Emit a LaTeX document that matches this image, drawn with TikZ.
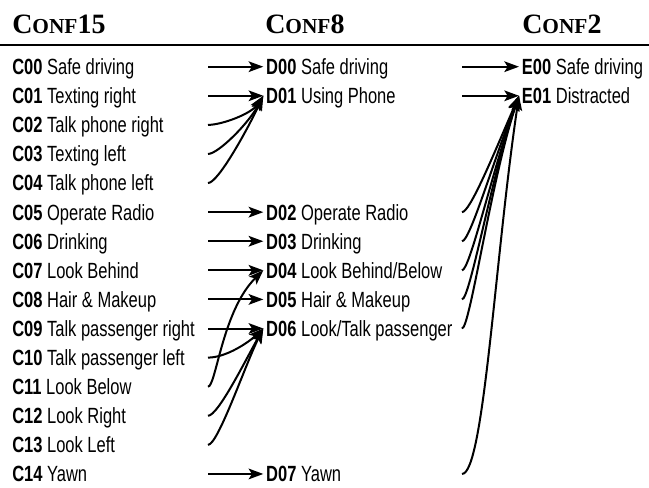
\documentclass[tikz,border=0pt]{standalone}
\usepackage{fontspec}
\setmainfont[FakeStretch=0.75]{Liberation Sans}
\newfontfamily\hdfont{Liberation Serif}
\usetikzlibrary{arrows.meta}
\newcommand\hdsmall[1]{{\fontsize{16}{17}\selectfont #1}}
\begin{document}
\begin{tikzpicture}[x=0.75pt,y=0.75pt,
  lab/.style={anchor=west,inner xsep=0pt,inner ysep=0pt,text height=11.8pt,text depth=0pt,font=\fontsize{16.5}{19}\selectfont},
  dlab/.style={lab,inner xsep=2pt},
  arr/.style={line width=1.5pt,-{Stealth[length=11pt,width=8pt,inset=2.5pt]}},
  rule/.style={line width=0.8pt},
  hd/.style={anchor=base west,inner sep=0pt,font=\hdfont\bfseries\fontsize{21}{24}\selectfont}]
\useasboundingbox (0,0) rectangle (649,487);
% headers
\node[hd] (h1) at (12,454) {C\hdsmall{ONF}15};
\node[hd] (h2) at (265,454) {C\hdsmall{ONF}8};
\node[hd] (h3) at (522,454) {C\hdsmall{ONF}2};
\coordinate (l0) at (0,442);
\coordinate (l1) at (649,442);
\draw[rule] (l0) -- (l1);
% column 1
\node[lab] (C00) at (12,420.30) {\textbf{C00} Safe driving};
\node[lab] (C01) at (12,391.21) {\textbf{C01} Texting right};
\node[lab] (C02) at (12,362.12) {\textbf{C02} Talk phone right};
\node[lab] (C03) at (12,333.03) {\textbf{C03} Texting left};
\node[lab] (C04) at (12,303.94) {\textbf{C04} Talk phone left};
\node[lab] (C05) at (12,274.85) {\textbf{C05} Operate Radio};
\node[lab] (C06) at (12,245.76) {\textbf{C06} Drinking};
\node[lab] (C07) at (12,216.67) {\textbf{C07} Look Behind};
\node[lab] (C08) at (12,187.58) {\textbf{C08} Hair \& Makeup};
\node[lab] (C09) at (12,158.49) {\textbf{C09} Talk passenger right};
\node[lab] (C10) at (12,129.40) {\textbf{C10} Talk passenger left};
\node[lab] (C11) at (12,100.31) {\textbf{C11} Look Below};
\node[lab] (C12) at (12,71.22) {\textbf{C12} Look Right};
\node[lab] (C13) at (12,42.13) {\textbf{C13} Look Left};
\node[lab] (C14) at (12,13.04) {\textbf{C14} Yawn};
% column 2
\node[dlab] (D00) at (263.3,420.30) {\textbf{D00} Safe driving};
\node[dlab] (D01) at (263.3,391.21) {\textbf{D01} Using Phone};
\node[dlab] (D02) at (263.3,274.85) {\textbf{D02} Operate Radio};
\node[dlab] (D03) at (263.3,245.76) {\textbf{D03} Drinking};
\node[dlab] (D04) at (263.3,216.67) {\textbf{D04} Look Behind/Below};
\node[dlab] (D05) at (263.3,187.58) {\textbf{D05} Hair \& Makeup};
\node[dlab] (D06) at (263.3,158.49) {\textbf{D06} Look/Talk passenger};
\node[dlab] (D07) at (263.3,13.04) {\textbf{D07} Yawn};
% column 3
\node[dlab] (E00) at (519,420.30) {\textbf{E00} Safe driving};
\node[dlab] (E01) at (519,391.21) {\textbf{E01} Distracted};
% start x of connectors
\coordinate (xa) at (208,0);
\coordinate (xb) at (462,0);
% C -> D straight
\draw[arr] (C00.west -| xa) -- (D00.west);
\draw[arr] (C01.west -| xa) -- (D01.west);
\draw[arr] (C05.west -| xa) -- (D02.west);
\draw[arr] (C06.west -| xa) -- (D03.west);
\draw[arr] (C07.west -| xa) -- (D04.west);
\draw[arr] (C08.west -| xa) -- (D05.west);
\draw[arr] (C09.west -| xa) -- (D06.west);
\draw[arr] (C14.west -| xa) -- (D07.west);
% C -> D curves
\draw[arr] (C02.west -| xa) .. controls +(14,0) and +(-12,-18) .. (D01.west);
\draw[arr] (C03.west -| xa) .. controls +(10,0) and +(-15,-28) .. (D01.west);
\draw[arr] (C04.west -| xa) .. controls +(10,0) and +(-16,-34) .. (D01.west);
\draw[arr] (C11.west -| xa) .. controls +(8,0) and +(-41,-40) .. (D04.west);
\draw[arr] (C10.west -| xa) .. controls +(18,0) and +(-15,-14) .. (D06.west);
\draw[arr] (C12.west -| xa) .. controls +(10,0) and +(-18,-32) .. (D06.west);
\draw[arr] (C13.west -| xa) .. controls +(10,0) and +(-18,-36) .. (D06.west);
% D -> E
\draw[arr] (D00.west -| xb) -- (E00.west);
\draw[arr] (D01.west -| xb) -- (E01.west);
\draw[arr] (D02.west -| xb) .. controls +(8,0) and +(-26,-60) .. (E01.west);
\draw[arr] (D03.west -| xb) .. controls +(8,0) and +(-26,-66) .. (E01.west);
\draw[arr] (D04.west -| xb) .. controls +(8,0) and +(-26,-72) .. (E01.west);
\draw[arr] (D05.west -| xb) .. controls +(8,0) and +(-27,-78) .. (E01.west);
\draw[arr] (D06.west -| xb) .. controls +(8,0) and +(-28,-84) .. (E01.west);
\draw[arr] (D07.west -| xb) .. controls +(22,0) and +(-24,-160) .. (E01.west);
\end{tikzpicture}
\end{document}
